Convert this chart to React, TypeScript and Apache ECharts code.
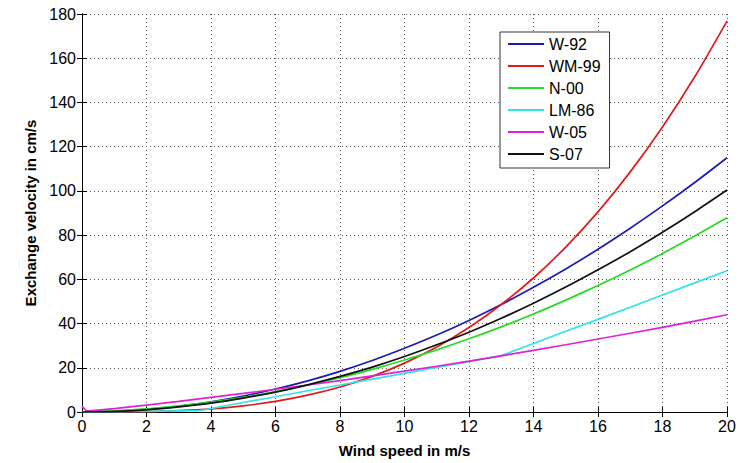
import React, { useEffect, useRef } from "react";
import * as echarts from "echarts";

// Wind speed (m/s) sample points
const windSpeed = [0, 1, 2, 3, 4, 5, 6, 7, 8, 9, 10, 11, 12, 13, 14, 15, 16, 17, 18, 19, 20];

// Exchange velocity (cm/s)
const w92 = [0, 0.29, 1.15, 2.6, 4.6, 7.2, 10.4, 14.1, 18.4, 23.3, 28.8, 34.8, 41.4, 48.6, 56.4, 64.7, 73.6, 83.1, 93.2, 103.8, 115.0];
const wm99 = [0, 0.02, 0.18, 0.6, 1.4, 2.8, 4.8, 7.6, 11.3, 16.1, 22.1, 29.4, 38.2, 48.6, 60.6, 74.6, 90.5, 108.6, 128.9, 151.6, 176.8];
const n00 = [0, 0.5, 1.4, 2.8, 4.5, 6.6, 9.2, 12.2, 15.5, 19.3, 23.5, 28.1, 33.1, 38.5, 44.3, 50.6, 57.2, 64.2, 71.7, 79.6, 87.9];
const s07 = [0, 0.25, 1.0, 2.3, 4.0, 6.3, 9.0, 12.3, 16.1, 20.3, 25.1, 30.4, 36.1, 42.4, 49.2, 56.5, 64.3, 72.5, 81.3, 90.6, 100.4];

const lm86Speed = [0, 1, 2, 3, 3.6, 4, 5, 6, 7, 8, 9, 10, 11, 12, 13, 14, 15, 16, 17, 18, 19, 20];
const lm86 = [0, 0.16, 0.32, 0.47, 0.57, 1.6, 4.3, 6.9, 9.6, 12.2, 14.9, 17.5, 20.2, 22.8, 25.5, 31.0, 36.5, 41.9, 47.4, 52.9, 58.4, 63.9];

const w05Speed = [0, 0.15, 1, 2, 3, 4, 5, 6, 7, 8, 9, 10, 11, 12, 13, 14, 15, 16, 17, 18, 19, 20];
const w05 = [2.5, 0.4, 1.5, 3.1, 4.8, 6.6, 8.4, 10.3, 12.2, 14.2, 16.3, 18.5, 20.7, 23.0, 25.4, 27.9, 30.4, 33.0, 35.6, 38.3, 41.1, 44.0];

const seriesNames = ["W-92", "WM-99", "N-00", "LM-86", "W-05", "S-07"];
const seriesColors = ["#1c1cb0", "#e01b1b", "#22dd22", "#30e4e4", "#e020d8", "#111111"];
const seriesSmooth = [0.25, 0.25, 0.25, false, false, 0.25];

const xTicks = { min: 0, max: 20, interval: 2 };
const yTicks = { min: 0, max: 180, interval: 20 };

const FONT = "'Liberation Sans', Arial, Helvetica, sans-serif";

function pairs(xs: number[], ys: number[]) {
  return xs.map((x, i) => [x, ys[i]]);
}

export default function App() {
  const ref = useRef<HTMLDivElement>(null);

  useEffect(() => {
    if (!ref.current) return;
    const chart = echarts.init(ref.current, undefined, { renderer: "svg" });

    const dataSets = [
      pairs(windSpeed, w92),
      pairs(windSpeed, wm99),
      pairs(windSpeed, n00),
      pairs(lm86Speed, lm86),
      pairs(w05Speed, w05),
      pairs(windSpeed, s07),
    ];

    const axisLine = { show: true, lineStyle: { color: "#000", width: 1 } };
    const axisTick = { show: true, inside: true, length: 5, lineStyle: { color: "#000", width: 1 } };
    const splitLine = { show: true, lineStyle: { color: "#555", width: 1, type: [1, 3] as any } };

    chart.setOption({
      animation: false,
      backgroundColor: "#fff",
      grid: { left: 82, right: 29, top: 14, bottom: 44, show: false },
      legend: {
        orient: "vertical",
        left: 500,
        top: 32,
        padding: [4, 9, 6, 7],
        itemWidth: 36,
        itemHeight: 14,
        itemGap: 6,
        backgroundColor: "#fff",
        borderColor: "#333",
        borderWidth: 1,
        itemStyle: { opacity: 0 },
        textStyle: { fontFamily: FONT, fontSize: 16, color: "#000" },
        data: seriesNames,
      },
      xAxis: [
        {
          type: "value",
          position: "bottom",
          min: xTicks.min,
          max: xTicks.max,
          interval: xTicks.interval,
          name: "Wind speed in m/s",
          nameLocation: "middle",
          nameGap: 31,
          nameTextStyle: { fontFamily: FONT, fontSize: 15, fontWeight: "bold", color: "#000" },
          axisLine,
          axisTick,
          axisLabel: { fontFamily: FONT, fontSize: 16, color: "#000", margin: 6 },
          splitLine,
        },
        {
          type: "value",
          position: "top",
          min: xTicks.min,
          max: xTicks.max,
          interval: xTicks.interval,
          axisLine,
          axisTick,
          axisLabel: { show: false },
          splitLine: { show: false },
        },
      ],
      yAxis: [
        {
          type: "value",
          position: "left",
          min: yTicks.min,
          max: yTicks.max,
          interval: yTicks.interval,
          name: "Exchange velocity in cm/s",
          nameLocation: "middle",
          nameGap: 44,
          nameTextStyle: { fontFamily: FONT, fontSize: 15, fontWeight: "bold", color: "#000" },
          axisLine,
          axisTick,
          axisLabel: { fontFamily: FONT, fontSize: 16, color: "#000", margin: 6 },
          splitLine,
        },
        {
          type: "value",
          position: "right",
          min: yTicks.min,
          max: yTicks.max,
          interval: yTicks.interval,
          axisLine,
          axisTick,
          axisLabel: { show: false },
          splitLine: { show: false },
        },
      ],
      series: seriesNames.map((name, i) => ({
        name,
        type: "line",
        xAxisIndex: 0,
        yAxisIndex: 0,
        data: dataSets[i],
        symbol: "none",
        showSymbol: false,
        smooth: seriesSmooth[i],
        color: seriesColors[i],
        lineStyle: { color: seriesColors[i], width: 1.7 },
        z: 3 + i,
      })),
    });

    return () => chart.dispose();
  }, []);

  return (
    <div
      ref={ref}
      style={{ position: "fixed", left: 0, top: 0, width: 756, height: 463, background: "#fff" }}
    />
  );
}
